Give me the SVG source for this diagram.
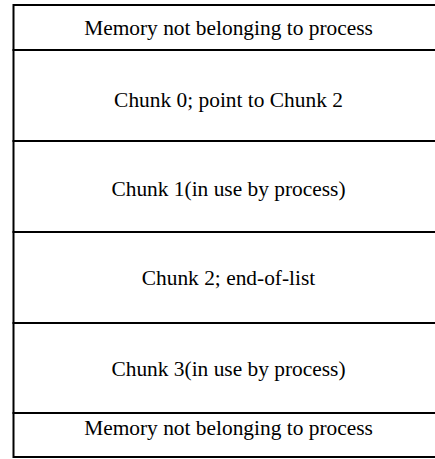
<svg xmlns="http://www.w3.org/2000/svg" width="435" height="459" viewBox="0 0 435 459">
<style>
.cell{fill:#ffffff;stroke:#000000;stroke-width:2}
.lbl{font-family:'Liberation Serif','DejaVu Serif',serif;font-size:21.4px;fill:#000000;text-anchor:middle}
</style>
<rect width="435" height="459" fill="#ffffff"/>
<g id="mem-top"><rect class="cell" x="13.5" y="5" width="430" height="45"/><text class="lbl" x="228.5" y="35" font-family="Liberation Serif">Memory not belonging to process</text></g>
<g id="chunk0"><rect class="cell" x="13.5" y="50" width="430" height="91"/><text class="lbl" x="228.5" y="106.5" font-family="Liberation Serif">Chunk 0; point to Chunk 2</text></g>
<g id="chunk1"><rect class="cell" x="13.5" y="141" width="430" height="91"/><text class="lbl" x="228.5" y="196" font-family="Liberation Serif">Chunk 1(in use by process)</text></g>
<g id="chunk2"><rect class="cell" x="13.5" y="232" width="430" height="91"/><text class="lbl" x="228.5" y="285" font-family="Liberation Serif">Chunk 2; end-of-list</text></g>
<g id="chunk3"><rect class="cell" x="13.5" y="323" width="430" height="90"/><text class="lbl" x="228.5" y="376" font-family="Liberation Serif">Chunk 3(in use by process)</text></g>
<g id="mem-bottom"><rect class="cell" x="13.5" y="413" width="430" height="44"/><text class="lbl" x="228.5" y="435" font-family="Liberation Serif">Memory not belonging to process</text></g>
<g id="connectors"></g>
</svg>
